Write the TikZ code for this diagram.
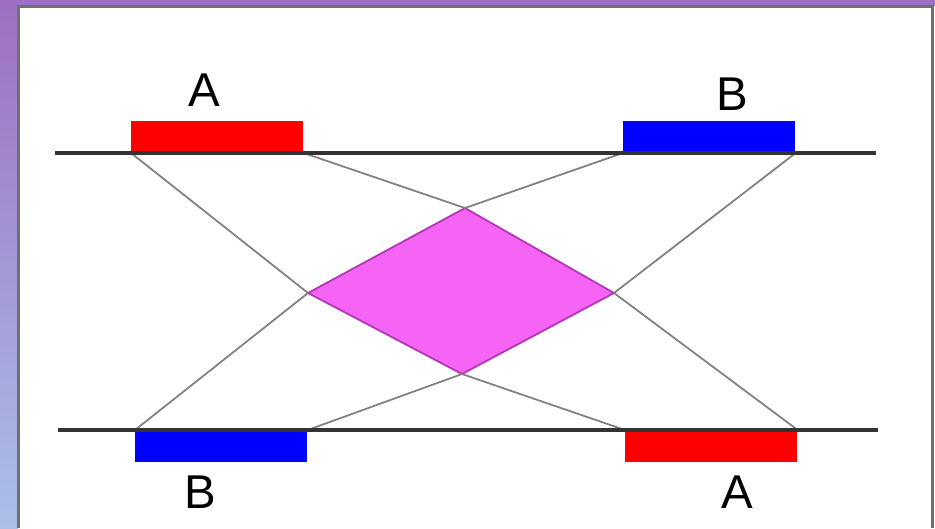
\documentclass[tikz,border=0pt]{standalone}
\usepackage{fontspec}
\setmainfont{Liberation Sans}
\usetikzlibrary{positioning}
\definecolor{Frame}{HTML}{9C6FC0}
\definecolor{FrameLow}{HTML}{AAC0E8}
\definecolor{Edge}{HTML}{707070}
\definecolor{Red}{HTML}{FF0000}
\definecolor{Blue}{HTML}{0000FF}
\definecolor{Pink}{HTML}{F564F5}
\definecolor{PinkEdge}{HTML}{B435B4}

\begin{document}
\begin{tikzpicture}[x=0.02cm,y=-0.02cm,
  bar/.style={inner sep=0pt,minimum width=3.44cm,minimum height=0.63cm},
  axis/.style={line width=2.3pt,draw=black!80},
  link/.style={line width=1pt,draw=black!50},
  lbl/.style={font=\fontsize{27}{30}\selectfont}]
  \useasboundingbox (0,0) rectangle (935,528);
  % frame
  \fill[white] (0,0) rectangle (935,528);
  \fill[Frame] (0,0) rectangle (935,6);
  \shade[top color=Frame,bottom color=FrameLow] (0,0) rectangle (18,528);
  \draw[Edge,line width=1.7pt] (932,528) -- (932,6.5) -- (18.5,6.5) -- (18.5,528);
  % regions
  \node[bar,fill=Red,anchor=south west] (topA) at (131,153) {};
  \node[bar,fill=Blue,anchor=south west] (topB) at (623,153) {};
  \node[bar,fill=Blue,anchor=north west] (botB) at (135,430) {};
  \node[bar,fill=Red,anchor=north west] (botA) at (625,430) {};
  \node[lbl] (labTA) at (204,90) {A};
  \node[lbl] (labTB) at (732,94) {B};
  \node[lbl] (labBB) at (200,492) {B};
  \node[lbl] (labBA) at (737,492) {A};
  % overlap
  \coordinate (dt) at (465,208);
  \coordinate (dl) at (308,293);
  \coordinate (dr) at (614,293);
  \coordinate (db) at (462,374);
  \filldraw[fill=Pink,draw=PinkEdge,line width=1pt] (dt) -- (dr) -- (db) -- (dl) -- cycle;
  \draw[link] (topA.south west) -- (dl);
  \draw[link] (topA.south east) -- (dt);
  \draw[link] (topB.south west) -- (dt);
  \draw[link] (topB.south east) -- (dr);
  \draw[link] (botB.north west) -- (dl);
  \draw[link] (botB.north east) -- (db);
  \draw[link] (botA.north west) -- (db);
  \draw[link] (botA.north east) -- (dr);
  % sequences
  \coordinate (s1) at (55,153);
  \coordinate (e1) at (876,153);
  \coordinate (s2) at (58,430);
  \coordinate (e2) at (878,430);
  \draw[axis] (s1) -- (e1);
  \draw[axis] (s2) -- (e2);
\end{tikzpicture}
\end{document}
